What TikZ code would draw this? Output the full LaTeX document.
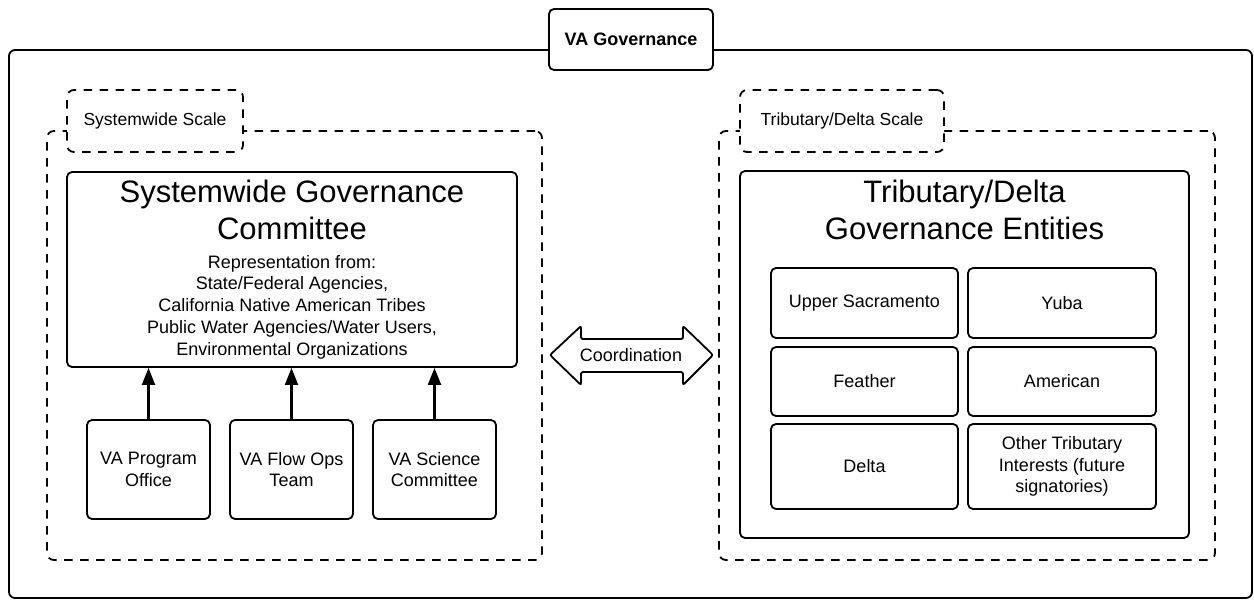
\documentclass[tikz,border=0pt]{standalone}
\usepackage{fontspec}
\setmainfont{Liberation Sans}
\usetikzlibrary{arrows.meta}
\begin{document}
\begin{tikzpicture}[x=1pt,y=-1pt,
  solidbox/.style={draw=black, line width=1.8pt, rounded corners=5pt, fill=white, inner sep=2pt, align=center, font=\fontsize{18}{21.75}\selectfont},
  dashbox/.style={draw=black, line width=1.8pt, dash pattern=on 8.5pt off 7.5pt, rounded corners=7pt, fill=white, inner sep=0pt},
  lbl/.style={font=\fontsize{17.5}{21}\selectfont},
  bigtitle/.style={align=center, font=\fontsize{31}{37}\selectfont, inner sep=0pt},
  bodytext/.style={align=center, font=\fontsize{18}{21.75}\selectfont, inner sep=0pt},
  conn/.style={draw=black, line width=2.2pt, -{Triangle[length=17pt,width=13pt]}},
  ]
\useasboundingbox (0,0) rectangle (1254,600);
% outer frame
\node[draw=black, line width=1.8pt, rounded corners=6pt, minimum width=1243pt, minimum height=548pt, inner sep=0pt] (frame) at (630.5,324) {};
\node[solidbox, minimum width=164pt, minimum height=61pt, font=\bfseries\fontsize{18}{21}\selectfont] (vagov) at (631,39.5) {VA Governance};
% left side
\node[dashbox, minimum width=495pt, minimum height=429pt] (swscale) at (294.5,345.5) {};
\node[dashbox, lbl, minimum width=176pt, minimum height=62pt] (swlabel) at (155,121) {Systemwide Scale};
\node[solidbox, minimum width=450pt, minimum height=195pt] (swgc) at (292,269.5) {};
\node[bigtitle] (swtitle) at (292,210) {Systemwide Governance\\Committee};
\node[bodytext] (swbody) at (292,307) {Representation from:\\State/Federal Agencies,\\California Native American Tribes\\Public Water Agencies/Water Users,\\Environmental Organizations};
\node[solidbox, minimum width=123pt, minimum height=99pt] (prog) at (148.5,469.5) {VA Program\\Office};
\node[solidbox, minimum width=123pt, minimum height=99pt] (flow) at (291.5,469.5) {VA Flow Ops\\Team};
\node[solidbox, minimum width=123pt, minimum height=99pt] (sci) at (434.5,469.5) {VA Science\\Committee};
\draw[conn] (prog.north) -- (prog.north |- swgc.south);
\draw[conn] (flow.north) -- (flow.north |- swgc.south);
\draw[conn] (sci.north) -- (sci.north |- swgc.south);
% coordination arrow
\draw[line width=1.8pt, rounded corners=2pt, fill=white]
  (550,355) -- (581,326) -- (581,339) -- (683,339) -- (683,326) -- (713,355)
  -- (683,385) -- (683,372) -- (581,372) -- (581,385) -- cycle;
\node[bodytext] (coord) at (631,355) {Coordination};
% right side
\node[dashbox, minimum width=496pt, minimum height=429pt] (tdscale) at (967,345.5) {};
\node[dashbox, lbl, minimum width=204pt, minimum height=62pt] (tdlabel) at (842,121) {Tributary/Delta Scale};
\node[solidbox, minimum width=449pt, minimum height=367pt] (tdgov) at (964.5,354.5) {};
\node[bigtitle] (tdtitle) at (964.5,210) {Tributary/Delta\\Governance Entities};
\node[solidbox, minimum width=187pt, minimum height=70pt] (upsac) at (864.5,303) {Upper Sacramento};
\node[solidbox, minimum width=188pt, minimum height=70pt] (yuba) at (1062,303) {Yuba};
\node[solidbox, minimum width=187pt, minimum height=69pt] (feather) at (864.5,381.5) {Feather};
\node[solidbox, minimum width=188pt, minimum height=69pt] (american) at (1062,381.5) {American};
\node[solidbox, minimum width=187pt, minimum height=85pt] (delta) at (864.5,466.5) {Delta};
\node[solidbox, minimum width=188pt, minimum height=85pt] (other) at (1062,466.5) {Other Tributary\\Interests (future\\signatories)};
\end{tikzpicture}
\end{document}
